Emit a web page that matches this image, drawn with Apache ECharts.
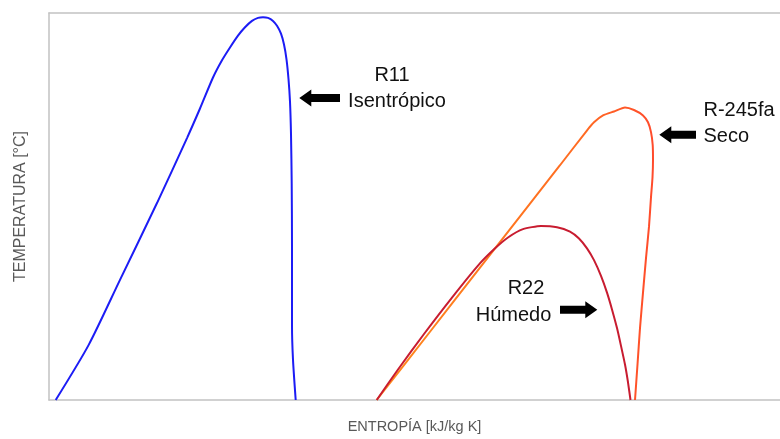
<!DOCTYPE html>
<html>
<head>
<meta charset="utf-8">
<script src="https://cdn.jsdelivr.net/npm/echarts@6/dist/echarts.min.js"></script>
<style>html,body{margin:0;padding:0;background:#fff;overflow:hidden;width:780px;height:439px}#c{width:800px;height:439px}</style>
</head>
<body>
<div id="c"></div>
<script>
// Curves (x = entropy units, y = temperature units)
var r11 = [[6.7,0],[39.7,56],[71,122],[108,200],[138,266],[151,296],[164,327.5],[173,345],[181,358],[189,370],[196,378.5],[203,385],[209,388],[214,388.7],[219,388],[224,385],[228,380],[232,372],[235,361],[237.5,346],[239.5,326],[241,303],[242,270],[242.7,220],[243,156],[243,76],[244,41],[246.7,0]];
var r245fa = [[327.7,0],[381,69.3],[431,134.4],[481,199.4],[511,238.4],[537.7,273.4],[545,282],[554,289],[565,293],[576,297],[585,294.5],[594,289],[599,282],[602,272],[603.7,259],[604,244],[603.5,226],[602,206],[600,176],[597,144],[594,109],[591,73],[588.5,36],[586,0]];
var r22 = [[327.7,0],[349,31],[375,67],[403,104],[429,136.5],[445,153],[459,165],[474,173.5],[492,176.7],[508,175.5],[521,171],[530,164],[538,154],[545,142],[552,126],[558,109],[563,92],[568,73],[572,55],[576,36],[579,18],[581.5,0]];

var seriesNames = ['R11', 'R-245fa', 'R22'];
var xAxisName = 'ENTROPÍA [kJ/kg K]';
var yAxisName = 'TEMPERATURA [°C]';

// Annotation labels: [text, x, y, align]
var labels = [
  ['R11', 343, 330, 'center'],
  ['Isentrópico', 348, 303.5, 'center'],
  ['R-245fa', 654.5, 293.5, 'left'],
  ['Seco', 654.5, 267.5, 'left'],
  ['R22', 477, 113.5, 'center'],
  ['Húmedo', 464.5, 85.5, 'center']
];
// Arrows: [tailX, tipX, y]
var arrows = [
  [291, 250.3, 306.7],
  [647, 610.3, 269.3],
  [511, 548.3, 91.7]
];

var chart = echarts.init(document.getElementById('c'), null, {renderer: 'canvas', width: 800, height: 439});
var FONT = '"Liberation Sans", Arial, sans-serif';
var AXIS_LINE = {show: true, lineStyle: {color: '#c2c2c2', width: 1.5}};

chart.setOption({
  backgroundColor: '#fff',
  animation: false,
  grid: {left: 49, right: 0, top: 13, bottom: 33, show: false},
  xAxis: [{
    type: 'value', min: 0, max: 751, position: 'bottom',
    name: xAxisName, nameLocation: 'middle', nameGap: 19,
    nameTextStyle: {color: '#595959', fontSize: 14.5, fontFamily: FONT, padding: [0, 20, 0, 0]},
    axisLine: AXIS_LINE, axisTick: {show: false}, axisLabel: {show: false}, splitLine: {show: false}
  }, {
    type: 'value', min: 0, max: 751, position: 'top',
    axisLine: AXIS_LINE, axisTick: {show: false}, axisLabel: {show: false}, splitLine: {show: false}
  }],
  yAxis: {
    type: 'value', min: 0, max: 393,
    name: yAxisName, nameLocation: 'middle', nameGap: 20,
    nameTextStyle: {color: '#595959', fontSize: 16, fontFamily: FONT},
    axisLine: AXIS_LINE, axisTick: {show: false}, axisLabel: {show: false}, splitLine: {show: false}
  },
  series: [
    {name: seriesNames[0], type: 'line', data: r11, showSymbol: false, smooth: 0.25,
     lineStyle: {color: '#1c1cf5', width: 2}},
    {name: seriesNames[1], type: 'line', data: r245fa, showSymbol: false, smooth: 0.2,
     lineStyle: {width: 2, color: new echarts.graphic.LinearGradient(0, 0, 1, 0, [
       {offset: 0, color: '#ff8a1c'}, {offset: 0.75, color: '#ff6a22'}, {offset: 1, color: '#ff4a2c'}])}},
    {name: seriesNames[2], type: 'line', data: r22, showSymbol: false, smooth: 0.2,
     lineStyle: {color: '#c81c30', width: 2}},
    {type: 'custom', data: arrows, silent: true,
     renderItem: function (params, api) {
       var tail = api.coord([api.value(0), api.value(2)]);
       var tip = api.coord([api.value(1), api.value(2)]);
       var dir = tip[0] < tail[0] ? -1 : 1;
       var hl = 12, hh = 8.5, bh = 4;
       var y = tip[1];
       var base = tip[0] - dir * hl;
       return {type: 'polygon', shape: {points: [
         [tail[0], y - bh], [base, y - bh], [base, y - hh], [tip[0], y],
         [base, y + hh], [base, y + bh], [tail[0], y + bh]]},
         style: {fill: '#000'}};
     }},
    {type: 'custom', data: labels.map(function (l) { return [l[1], l[2], l[0], l[3]]; }), silent: true,
     renderItem: function (params, api) {
       var p = api.coord([api.value(0), api.value(1)]);
       var item = labels[params.dataIndex];
       return {type: 'text', x: p[0], y: p[1], style: {
         text: item[0], fill: '#111', font: '20px ' + FONT,
         align: item[3], verticalAlign: 'middle'}};
     }}
  ]
});
</script>
</body>
</html>
